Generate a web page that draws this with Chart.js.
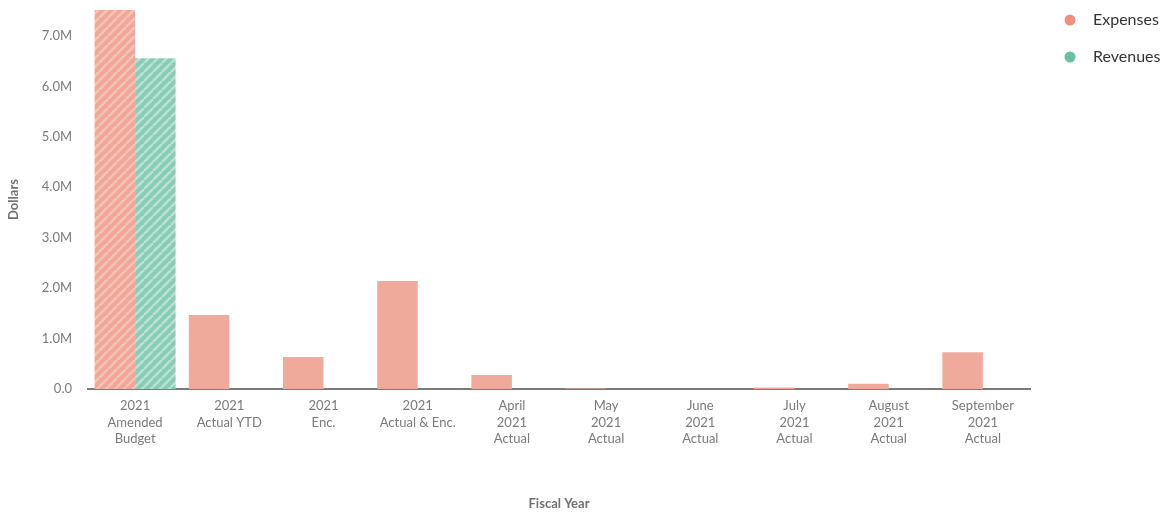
<!DOCTYPE html>
<html>
<head>
<meta charset="utf-8">
<script src="https://cdn.jsdelivr.net/npm/chart.js@4/dist/chart.umd.min.js"></script>
<style>
  html, body { margin: 0; padding: 0; background: #ffffff; }
  #wrap { width: 1171px; height: 512px; position: relative; }
</style>
</head>
<body>
<div id="wrap"><canvas id="chart" width="1171" height="512"></canvas></div>
<script>
// Fiscal year categories (multi-line tick labels)
const categories = [
  ['2021', 'Amended', 'Budget'],
  ['2021', 'Actual YTD'],
  ['2021', 'Enc.'],
  ['2021', 'Actual & Enc.'],
  ['April', '2021', 'Actual'],
  ['May', '2021', 'Actual'],
  ['June', '2021', 'Actual'],
  ['July', '2021', 'Actual'],
  ['August', '2021', 'Actual'],
  ['September', '2021', 'Actual']
];

// Dollar amounts per category
const expenses = [7515000, 1467000, 635000, 2140000, 280000, 12000, 0, 30000, 105000, 730000];
const revenues = [6560000, 0, 0, 0, 0, 0, 0, 0, 0, 0];

// Series names
const seriesNames = ['Expenses', 'Revenues'];

// Index of the budget column, drawn with a striped fill
const budgetIndex = 0;

const FONT = 'Lato, "Open Sans", sans-serif';

function stripePattern(base, stripe) {
  const size = 9;
  const c = document.createElement('canvas');
  c.width = size; c.height = size;
  const g = c.getContext('2d');
  g.fillStyle = base;
  g.fillRect(0, 0, size, size);
  g.strokeStyle = stripe;
  g.lineWidth = 2.6;
  g.beginPath();
  for (let k = -1; k <= 1; k++) {
    g.moveTo(k * size, size);
    g.lineTo(k * size + size, 0);
  }
  g.stroke();
  return g.createPattern(c, 'repeat');
}

// Legend marker: a filled circle, set slightly right of the image centre
function dot(color) {
  const c = document.createElement('canvas');
  c.width = 16; c.height = 12;
  const g = c.getContext('2d');
  g.fillStyle = color;
  g.beginPath();
  g.arc(10, 6, 5.5, 0, Math.PI * 2);
  g.fill();
  return c;
}

const expenseSolid = '#f0aa9c';
const revenueSolid = '#8fd0ba';
const expenseStripe = stripePattern('#f1a698', '#f6c3b8');
const revenueStripe = stripePattern('#88ccb5', '#b8e2d4');
const legendColors = ['#f08f7f', '#6dc0a4'];
const legendDots = legendColors.map(dot);

const expenseFill = expenses.map((v, i) => i === budgetIndex ? expenseStripe : expenseSolid);
const revenueFill = revenues.map((v, i) => i === budgetIndex ? revenueStripe : revenueSolid);

const legendTweak = {
  id: 'legendTweak',
  beforeUpdate(chart) {
    const lg = chart.legend;
    if (lg && !lg._tweaked) {
      const fit = lg.fit.bind(lg);
      lg.fit = function () { fit(); this.width = 141; };
      lg._tweaked = true;
    }
  },
  afterLayout(chart) {
    const lg = chart.legend;
    if (lg) { lg.top -= 19; lg.bottom -= 19; }
  }
};

new Chart(document.getElementById('chart'), {
  type: 'bar',
  data: {
    labels: categories,
    datasets: [
      { label: seriesNames[0], data: expenses, backgroundColor: expenseFill, borderWidth: 0 },
      { label: seriesNames[1], data: revenues, backgroundColor: revenueFill, borderWidth: 0 }
    ]
  },
  plugins: [legendTweak],
  options: {
    responsive: false,
    animation: false,
    devicePixelRatio: 1,
    layout: { padding: { top: 10, left: 0, right: 0, bottom: 0 } },
    datasets: { bar: { categoryPercentage: 0.86, barPercentage: 1.0 } },
    plugins: {
      tooltip: { enabled: false },
      legend: {
        position: 'right',
        align: 'start',
        labels: {
          usePointStyle: true,
          pointStyleWidth: 34,
          boxHeight: 12,
          padding: 21,
          color: '#333333',
          font: { family: FONT, size: 16 },
          generateLabels: (chart) => chart.data.datasets.map((ds, i) => ({
            text: ds.label,
            fillStyle: legendColors[i],
            strokeStyle: legendColors[i],
            lineWidth: 0,
            pointStyle: legendDots[i],
            hidden: false,
            datasetIndex: i,
            fontColor: '#333333'
          }))
        }
      }
    },
    scales: {
      x: {
        grid: { display: false, drawTicks: false },
        border: { display: true, color: '#7a7a7a', width: 2 },
        ticks: {
          color: '#7a7a7a',
          font: { family: FONT, size: 13, lineHeight: 1.25 },
          padding: 9,
          maxRotation: 0,
          autoSkip: false
        },
        title: {
          display: true,
          text: 'Fiscal Year',
          color: '#707070',
          font: { family: FONT, size: 13, weight: 'bold' },
          padding: { top: 2, bottom: 0 }
        },
        afterFit(scale) { scale.height = 123; }
      },
      y: {
        min: 0,
        bounds: 'data',
        grid: { display: false, drawTicks: false },
        border: { display: false },
        ticks: {
          stepSize: 1000000,
          color: '#7a7a7a',
          font: { family: FONT, size: 13 },
          padding: 16,
          callback: (v) => v === 0 ? '0.0' : (v / 1000000).toFixed(1) + 'M'
        },
        // keep whole-million ticks only
        afterBuildTicks(scale) {
          scale.ticks = scale.ticks.filter(t => t.value % 1000000 === 0);
        },
        title: {
          display: true,
          text: 'Dollars',
          color: '#707070',
          font: { family: FONT, size: 13, weight: 'bold' },
          padding: { top: 6, bottom: 0 }
        },
        afterFit(scale) {
          scale.width = 88;
          scale.paddingTop = 0;
          scale.paddingBottom = 0;
        }
      }
    }
  }
});
</script>
</body>
</html>
